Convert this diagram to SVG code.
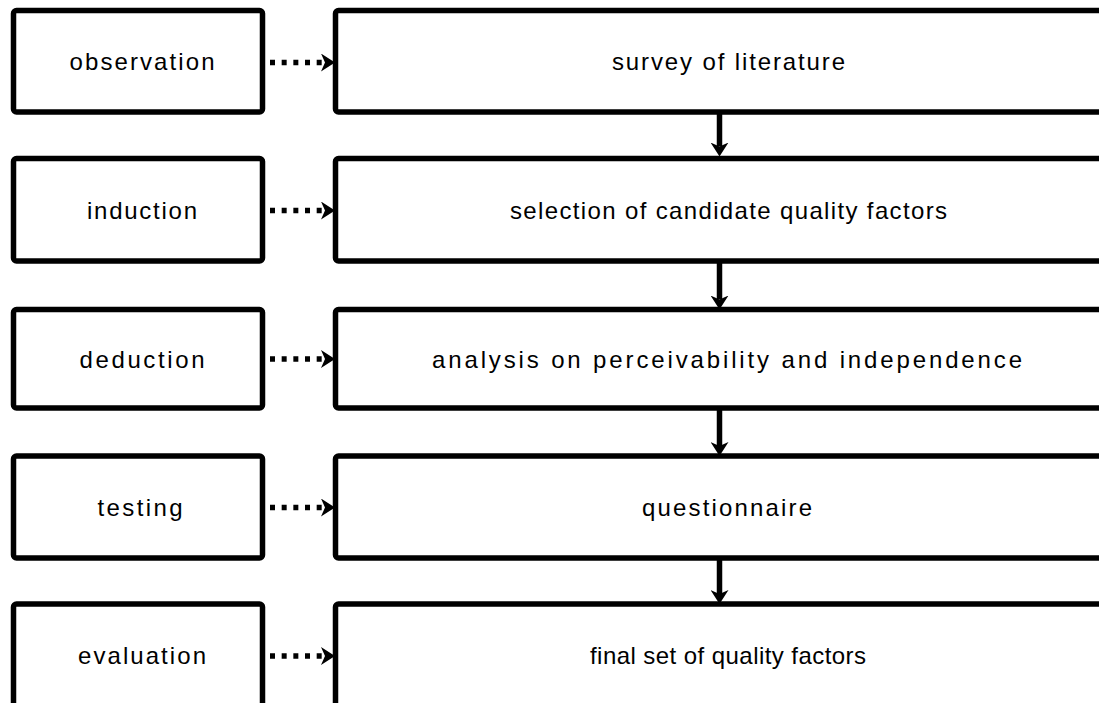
<svg xmlns="http://www.w3.org/2000/svg" width="1099" height="703" viewBox="0 0 1099 703">
  <style>
    .box { fill: #ffffff; stroke: #000000; stroke-width: 5.5; }
    .label { font-family: "Liberation Sans", Arial, sans-serif; font-size: 24px; fill: #000000; text-anchor: middle; }
    .flow { stroke: #000000; stroke-width: 5.5; fill: none; }
    .dotted { stroke: #000000; stroke-width: 5.5; fill: none; stroke-dasharray: 5 6.67; }
  </style>
  <defs>
    <marker id="head" markerUnits="userSpaceOnUse" viewBox="0 0 14 18" refX="4" refY="9" markerWidth="14" markerHeight="18" orient="auto">
      <path d="M0,0 L14,9 L0,18 L4,9 Z" fill="#000000"/>
    </marker>
  </defs>

  <rect width="1099" height="703" fill="#ffffff"/>

  <!-- method steps (left column) -->
  <g id="observation">
    <rect class="box" x="13.5" y="10.5" width="249" height="101.5" rx="3"/>
    <text class="label" x="142" y="70" textLength="145" lengthAdjust="spacing">observation</text>
  </g>
  <g id="induction">
    <rect class="box" x="13.5" y="158.5" width="249" height="102.5" rx="3"/>
    <text class="label" x="142" y="218.5" textLength="110" lengthAdjust="spacing">induction</text>
  </g>
  <g id="deduction">
    <rect class="box" x="13.5" y="309.5" width="249" height="98.5" rx="3"/>
    <text class="label" x="142" y="367.5" textLength="125" lengthAdjust="spacing">deduction</text>
  </g>
  <g id="testing">
    <rect class="box" x="13.5" y="456" width="249" height="102" rx="3"/>
    <text class="label" x="140" y="515.5" textLength="85" lengthAdjust="spacing">testing</text>
  </g>
  <g id="evaluation">
    <rect class="box" x="13.5" y="604" width="249" height="103" rx="3"/>
    <text class="label" x="142" y="664" textLength="128" lengthAdjust="spacing">evaluation</text>
  </g>

  <!-- research activities (right column) -->
  <g id="survey">
    <rect class="box" x="335.5" y="10.5" width="785" height="101.5" rx="3"/>
    <text class="label" x="728.5" y="70" textLength="233" lengthAdjust="spacing">survey of literature</text>
  </g>
  <g id="selection">
    <rect class="box" x="335.5" y="158.5" width="785" height="102.5" rx="3"/>
    <text class="label" x="728.5" y="218.5" textLength="437" lengthAdjust="spacing">selection of candidate quality factors</text>
  </g>
  <g id="analysis">
    <rect class="box" x="335.5" y="309.5" width="785" height="98.5" rx="3"/>
    <text class="label" x="727" y="367.5" textLength="590" lengthAdjust="spacing">analysis on perceivability and independence</text>
  </g>
  <g id="questionnaire">
    <rect class="box" x="335.5" y="456" width="785" height="102" rx="3"/>
    <text class="label" x="727" y="515.5" textLength="170" lengthAdjust="spacing">questionnaire</text>
  </g>
  <g id="final-set">
    <rect class="box" x="335.5" y="604" width="785" height="103" rx="3"/>
    <text class="label" x="728" y="664" textLength="276" lengthAdjust="spacing">final set of quality factors</text>
  </g>

  <!-- connectors -->
  <g id="connectors">
    <path class="dotted" d="M270,62.5 H325" marker-end="url(#head)"/>
    <path class="dotted" d="M270,210.5 H325" marker-end="url(#head)"/>
    <path class="dotted" d="M270,359 H325" marker-end="url(#head)"/>
    <path class="dotted" d="M270,507.5 H325" marker-end="url(#head)"/>
    <path class="dotted" d="M270,656 H325" marker-end="url(#head)"/>

    <path class="flow" d="M719.5,114 V146.5" marker-end="url(#head)"/>
    <path class="flow" d="M719.5,263 V299.5" marker-end="url(#head)"/>
    <path class="flow" d="M719.5,410 V446" marker-end="url(#head)"/>
    <path class="flow" d="M719.5,560 V594" marker-end="url(#head)"/>
  </g>
</svg>
